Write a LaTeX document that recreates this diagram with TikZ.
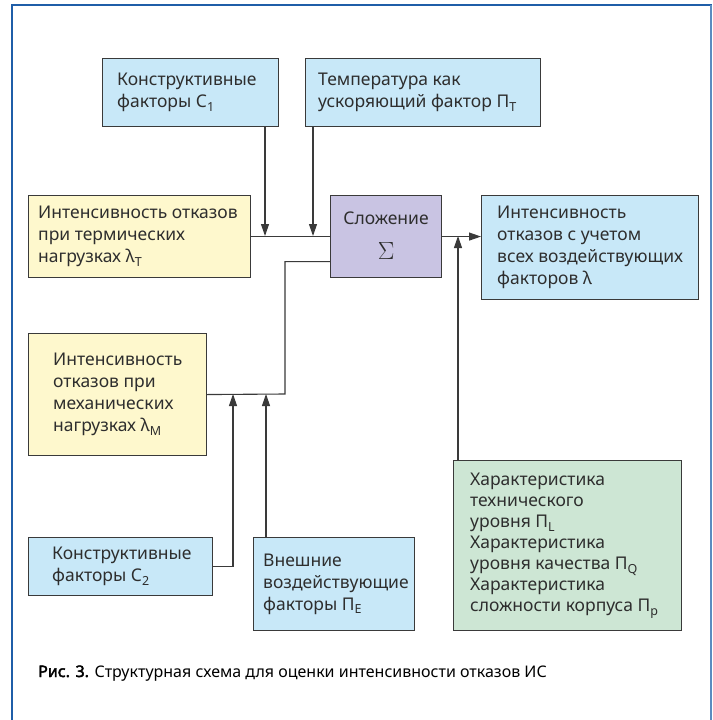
\documentclass[tikz,border=0pt]{standalone}
\usepackage{fontspec}
\setmainfont{Noto Sans}[AutoFakeBold=2.5]
\usetikzlibrary{arrows.meta}
\definecolor{framec}{HTML}{1F5EA8}
\definecolor{framer}{HTML}{5B8CC0}
\definecolor{linec}{HTML}{3A3A3A}
\definecolor{textc}{HTML}{2E2E2E}
\definecolor{fblue}{HTML}{C8E8F8}
\definecolor{fyellow}{HTML}{FEF8CD}
\definecolor{fpurple}{HTML}{C9C4E3}
\definecolor{fgreen}{HTML}{CDE6D4}
\newcommand{\lowsub}[1]{\raisebox{-0.4ex}{\fontsize{12.5}{12.5}\selectfont #1}}
\tikzset{
  box/.style={draw=linec, line width=1.1pt, inner sep=0pt, anchor=north west},
  txt/.style={align=left, inner sep=0pt, anchor=west, text=textc, font=\fontsize{17.5}{22}\selectfont},
  conn/.style={draw=linec, line width=1.1pt},
  arr/.style={conn, -{Triangle[length=12pt,width=8pt]}},
}
\begin{document}
\begin{tikzpicture}[x=1pt,y=-1pt]
\useasboundingbox (0,0) rectangle (712,720);
\fill[white] (0,0) rectangle (712,720);
% frame
\draw[framec, line width=2.5pt] (12,5) -- (712,5);
\draw[framec, line width=2pt] (12,4) -- (12,720);
\draw[framer, line width=1.2pt] (711,5) -- (711,720);
% boxes
\node[box, fill=fblue, minimum width=176pt, minimum height=68pt] (c1) at (102,58) {};
\node[txt] (c1t) at ([xshift=15pt]c1.west) {Конструктивные\\факторы C\lowsub{1}};
\node[box, fill=fblue, minimum width=235pt, minimum height=68pt] (pt) at (305,58) {};
\node[txt] (ptt) at ([xshift=13pt]pt.west) {Температура как\\ускоряющий фактор Π\lowsub{T}};
\node[box, fill=fyellow, minimum width=222pt, minimum height=82pt] (lt) at (28,195) {};
\node[txt] (ltt) at ([xshift=10pt]lt.west) {Интенсивность отказов\\при термических\\нагрузках λ\lowsub{T}};
\node[box, fill=fpurple, minimum width=111pt, minimum height=82pt] (sum) at (330,195) {};
\node[txt, anchor=center] (sumt) at ([yshift=18pt]sum.center) {Сложение};
\node[inner sep=0pt, text=textc] (sums) at ([yshift=-14pt]sum.center) {\fontsize{28}{28}\selectfont$\Sigma$};
\node[box, fill=fblue, minimum width=217pt, minimum height=104pt] (lam) at (481,195) {};
\node[txt] (lamt) at ([xshift=16pt]lam.west) {Интенсивность\\отказов с учетом\\всех воздействующих\\факторов λ};
\node[box, fill=fyellow, minimum width=178pt, minimum height=122pt] (lm) at (28,333) {};
\node[txt] (lmt) at ([xshift=25pt]lm.west) {Интенсивность\\отказов при\\механических\\нагрузках λ\lowsub{M}};
\node[box, fill=fblue, minimum width=184pt, minimum height=58pt] (c2) at (28,537) {};
\node[txt] (c2t) at ([xshift=24pt]c2.west) {Конструктивные\\факторы C\lowsub{2}};
\node[box, fill=fblue, minimum width=161pt, minimum height=93pt] (pe) at (253,537) {};
\node[txt] (pet) at ([xshift=10pt]pe.west) {Внешние\\воздействующие\\факторы Π\lowsub{E}};
\node[box, fill=fgreen, minimum width=228pt, minimum height=170pt] (gr) at (453,460) {};
\node[txt, font=\fontsize{17.5}{21}\selectfont] (grt) at ([xshift=17pt]gr.west) {Характеристика\\технического\\уровня Π\lowsub{L}\\Характеристика\\уровня качества Π\lowsub{Q}\\Характеристика\\сложности корпуса Π\lowsub{p}};
% junction coordinates
\coordinate (j1) at (265,236);
\coordinate (j2) at (313,236);
\coordinate (k1) at (285,394);
\coordinate (k2) at (233,394);
\coordinate (k3) at (266,394);
\coordinate (k4) at (458,236);
% connectors
\draw[conn] (lt.east) -- (sum.west);
\draw[arr] (c1.south -| j1) -- (j1);
\draw[arr] (pt.south -| j2) -- (j2);
\draw[arr] (sum.east) -- (sum.east -| lam.west);
\draw[arr] (gr.north -| k4) -- (k4);
\draw[conn] ([yshift=-25pt]sum.west) -| (k1) -- (lm.east);
\draw[arr] (c2.east) -| (k2);
\draw[arr] (pe.north -| k3) -- (k3);
% caption
\node[anchor=base west, inner sep=0pt, text=black, font=\fontsize{16}{18}\selectfont] (cap) at (38,677) {\textbf{Рис. 3.} Структурная схема для оценки интенсивности отказов ИС};
\end{tikzpicture}
\end{document}
